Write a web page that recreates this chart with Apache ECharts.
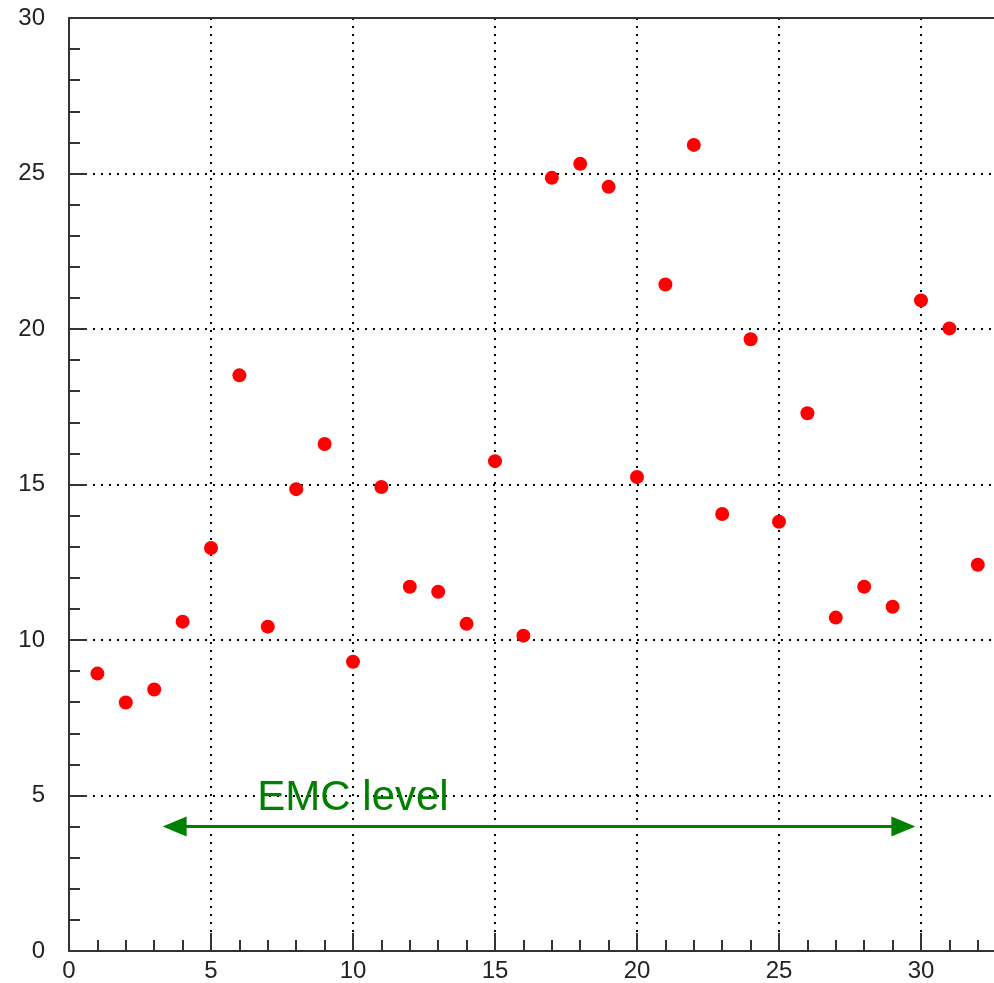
<!DOCTYPE html>
<html>
<head>
<meta charset="utf-8">
<script src="https://cdn.jsdelivr.net/npm/echarts@6/dist/echarts.min.js"></script>
<style>
html,body{margin:0;padding:0;background:#fff;overflow:hidden;width:994px;height:983px;}
#chart{width:1063px;height:983px;}
</style>
</head>
<body>
<div id="chart"></div>
<script>
var xValues = [1,2,3,4,5,6,7,8,9,10,11,12,13,14,15,16,17,18,19,20,21,22,23,24,25,26,27,28,29,30,31,32];
var yValues = [8.92,7.99,8.41,10.59,12.96,18.51,10.43,14.85,16.30,9.30,14.92,11.71,11.55,10.52,15.75,10.14,
               24.86,25.31,24.57,15.24,21.43,25.92,14.05,19.67,13.80,17.29,10.72,11.71,11.07,20.92,20.02,12.42];
var arrowStart = [3.72, 4];
var arrowEnd = [29.38, 4];
var annotationText = 'EMC level';
var annotationPos = [10, 4.9];

var points = xValues.map(function(x, i){ return [x, yValues[i]]; });

var chart = echarts.init(document.getElementById('chart'), null, {renderer:'canvas'});
var axisFont = {fontFamily:'Liberation Sans', fontSize:24, color:'#222'};
var dotted = {color:'#000', width:2, type:[2,6]};
chart.setOption({
  animation:false,
  backgroundColor:'#fff',
  grid:{left:69, top:18, bottom:30, right:0, containLabel:false},
  xAxis:[{
    type:'value', min:0, max:35, interval:5, position:'bottom',
    axisLine:{show:true, onZero:false, lineStyle:{color:'#333', width:2}},
    axisTick:{show:true, inside:true, length:18, lineStyle:{color:'#333', width:2}},
    minorTick:{show:true, splitNumber:5, length:11, lineStyle:{color:'#333', width:2}},
    splitLine:{show:true, lineStyle:dotted},
    axisLabel:Object.assign({margin:8, showMaxLabel:false}, axisFont)
  },{
    type:'value', min:0, max:35, position:'top',
    axisLine:{show:true, onZero:false, lineStyle:{color:'#333', width:2}},
    axisTick:{show:false}, axisLabel:{show:false}, splitLine:{show:false}
  }],
  yAxis:{
    type:'value', min:0, max:30, interval:5,
    axisLine:{show:true, onZero:false, lineStyle:{color:'#333', width:2}},
    axisTick:{show:true, inside:true, length:18, lineStyle:{color:'#333', width:2}},
    minorTick:{show:true, splitNumber:5, length:11, lineStyle:{color:'#333', width:2}},
    splitLine:{show:true, lineStyle:dotted},
    axisLabel:Object.assign({margin:24}, axisFont)
  },
  series:[{
    type:'scatter',
    data:points,
    symbol:'circle',
    symbolSize:14,
    itemStyle:{color:'#ff0000', opacity:1},
    z:5,
    markLine:{
      silent:true,
      symbol:['triangle','triangle'],
      symbolSize:[20,24],
      lineStyle:{color:'#008000', width:3, type:'solid'},
      label:{show:false},
      data:[[{coord:arrowStart},{coord:arrowEnd}]]
    },
    markPoint:{
      silent:true,
      symbol:'circle', symbolSize:0,
      itemStyle:{color:'transparent'},
      label:{show:true, position:'inside', formatter:annotationText,
             color:'#008000', fontFamily:'Liberation Sans', fontSize:42},
      data:[{coord:annotationPos}]
    }
  }]
});
</script>
</body>
</html>
